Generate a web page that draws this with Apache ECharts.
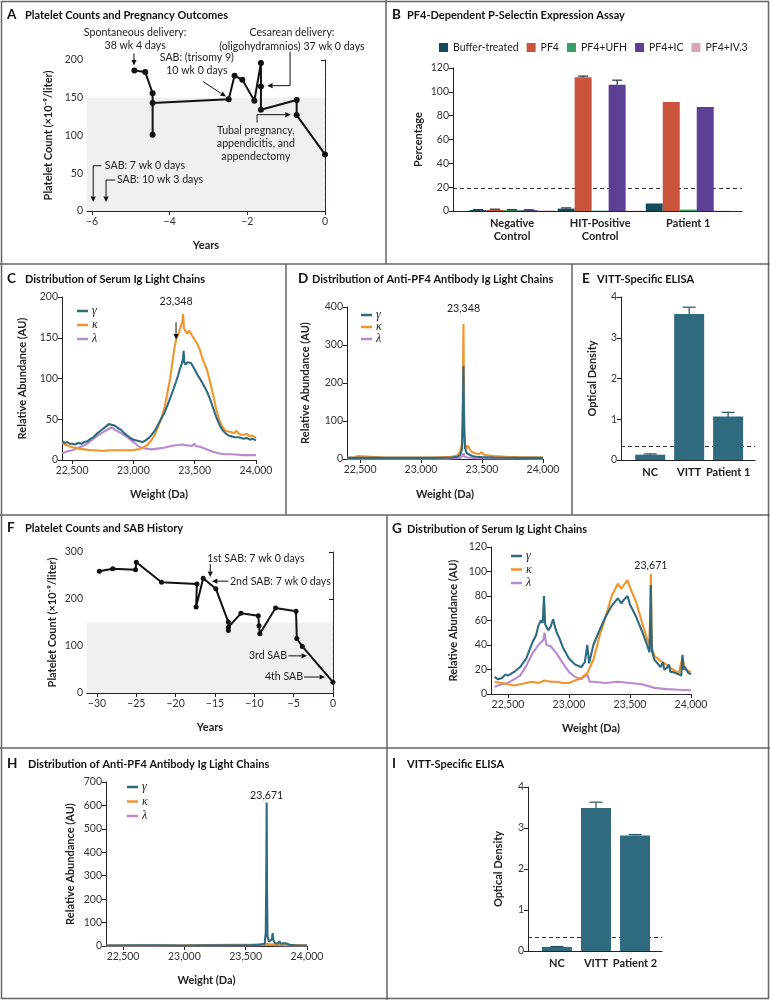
<!DOCTYPE html>
<html><head><meta charset="utf-8">
<script src="https://cdn.jsdelivr.net/npm/echarts@6/dist/echarts.min.js"></script>
<style>html,body{margin:0;padding:0;background:#fff}#c{width:770px;height:1000px}</style>
</head><body><div id="c"></div>
<script>
// ---------- DATA ----------
// Panel A
const A_years  = [-4.91, -4.63, -4.44, -4.44, -4.44, -2.48, -2.33, -2.13, -1.82, -1.65, -1.65, -1.65, -0.73, -0.73, 0];
const A_counts = [186, 184, 156, 101, 143, 148, 179, 174, 146, 196, 165, 134, 147, 127, 75];
const A_ticks = [-6, -4, -2, 0];
// Panel B
const B_groups = ['Negative\nControl', 'HIT-Positive\nControl', 'Patient 1'];
const B_names = ['Buffer-treated', 'PF4', 'PF4+UFH', 'PF4+IC', 'PF4+IV.3'];
const B_buffer = [0.8, 2.0, 6.3];
const B_pf4    = [1.0, 112.3, 91.5];
const B_ufh    = [0.8, 0.3, 1.2];
const B_ic     = [0.7, 106.0, 87.3];
const B_iv3    = [0.5, 0.3, 0.3];
const B_errBuffer = [1.1, 2.6, null];
const B_errPf4    = [1.5, 113.2, null];
const B_errUfh    = [1.1, null, null];
const B_errIc     = [1.0, 109.8, null];
const B_errIv3    = [null, null, null];
const B_cutoff = 19.5;
// Panel C
const C_gamma = [[22420,23],[22440,21],[22460,22],[22480,20],[22500,20],[22525,19],[22550,21],[22575,20],[22600,22],[22625,23],[22650,26],[22675,28],[22700,32],[22725,35],[22750,38],[22775,41],[22800,44],[22815,46],[22830,43],[22850,42],[22875,39],[22900,37],[22925,33],[22950,30],[22975,27],[23000,25],[23025,24],[23050,23],[23075,22],[23100,24],[23125,27],[23150,31],[23175,36],[23200,43],[23225,50],[23250,57],[23275,66],[23300,76],[23325,86],[23348,96],[23365,104],[23380,112],[23395,118],[23405,125],[23410,134],[23415,120],[23425,117],[23440,120],[23455,118],[23470,119],[23485,115],[23500,111],[23525,104],[23550,98],[23575,91],[23600,84],[23625,75],[23650,64],[23675,53],[23700,44],[23725,37],[23750,33],[23775,30],[23800,29],[23825,28],[23840,30],[23860,28],[23880,27],[23900,26],[23925,27],[23950,25],[23975,26],[24000,24]];
const C_kappa = [[22420,21],[22440,19],[22460,18],[22480,17],[22500,16],[22550,14],[22600,13],[22650,12],[22700,12],[22750,11],[22800,12],[22850,12],[22900,12],[22950,12],[23000,12],[23025,13],[23050,13],[23075,15],[23100,17],[23125,20],[23150,25],[23175,31],[23200,40],[23225,50],[23250,62],[23275,80],[23300,100],[23320,122],[23335,138],[23348,147],[23360,152],[23375,158],[23390,166],[23400,170],[23406,179],[23412,162],[23425,158],[23440,155],[23455,159],[23470,155],[23485,151],[23500,150],[23520,143],[23540,136],[23560,126],[23580,118],[23600,111],[23625,96],[23650,80],[23675,63],[23700,49],[23725,41],[23750,36],[23775,35],[23800,34],[23825,33],[23840,36],[23860,32],[23880,31],[23900,31],[23925,32],[23950,29],[23975,30],[24000,27]];
const C_lambda = [[22420,8],[22450,10],[22500,12],[22550,15],[22600,18],[22650,23],[22700,29],[22750,34],[22800,38],[22825,40],[22850,37],[22875,35],[22900,33],[22950,28],[23000,22],[23025,19],[23050,16],[23100,14],[23150,13],[23200,14],[23250,15],[23300,17],[23350,18],[23400,19],[23425,18],[23450,18],[23475,17],[23500,20],[23510,17],[23550,16],[23600,13],[23650,10],[23700,8],[23750,7],[23800,7],[23900,6],[24000,6]];
// Panel D
const D_gamma = [[22395,3],[22500,3],[22700,3],[22900,3],[23100,3],[23250,4],[23300,6],[23320,10],[23335,25],[23342,90],[23348,245],[23353,80],[23360,30],[23375,15],[23390,12],[23420,8],[23450,6],[23500,5],[23600,4],[23800,3],[24000,3]];
const D_kappa = [[22395,4],[22460,4],[22480,8],[22495,4],[22700,4],[22900,4],[23100,4],[23250,6],[23300,10],[23320,18],[23335,40],[23342,150],[23348,355],[23353,120],[23360,40],[23375,28],[23385,35],[23395,30],[23410,20],[23440,15],[23470,13],[23500,18],[23510,12],[23550,10],[23600,8],[23700,6],[23800,5],[24000,4]];
const D_lambda = [[22395,1],[23200,1],[23320,3],[23340,8],[23348,15],[23356,6],[23380,4],[23450,2],[24000,1]];
// Panel E
const E_cats = ['NC', 'VITT', 'Patient 1'];
const E_vals = [0.13, 3.58, 1.07];
const E_err  = [0.15, 3.75, 1.17];
const E_cutoff = 0.335;
// Panel F
const F_years  = [-29.7, -28.0, -25.1, -25.0, -21.8, -17.3, -17.4, -16.5, -14.9, -13.3, -13.3, -13.3, -11.7, -9.5, -9.4, -9.3, -7.3, -4.7, -4.6, -3.9, 0];
const F_counts = [259, 264.5, 262, 278, 235.5, 232, 183, 244, 222, 151, 133, 140, 169.5, 164.5, 143, 126, 181, 174, 116, 99, 23];
const F_ticks = [-30, -25, -20, -15, -10, -5, 0];
// Panel G
const G_gamma = [[22390,14],[22420,12],[22450,13],[22480,16],[22500,15],[22550,18],[22600,22],[22650,29],[22700,42],[22730,48],[22750,56],[22770,60],[22785,58],[22795,80],[22805,57],[22830,52],[22850,55],[22870,61],[22885,55],[22900,50],[22920,46],[22950,38],[23000,29],[23050,24],[23100,22],[23130,26],[23150,40],[23165,25],[23200,40],[23250,52],[23300,63],[23350,72],[23400,78],[23430,74],[23450,77],[23480,80],[23500,73],[23550,63],[23600,51],[23640,40],[23660,34],[23668,70],[23671,89],[23674,60],[23680,35],[23700,28],[23750,22],[23770,26],[23780,20],[23800,21],[23820,24],[23830,18],[23850,18],[23900,16],[23920,15],[23930,32],[23940,20],[23950,22],[23980,17],[24000,16]];
const G_kappa = [[22390,10],[22450,9],[22500,8],[22550,7],[22600,8],[22650,9],[22700,10],[22750,9],[22800,11],[22850,10],[22900,10],[22950,9],[23000,9],[23050,11],[23100,13],[23150,17],[23200,28],[23250,47],[23300,63],[23350,80],[23400,90],[23430,86],[23450,89],[23480,93],[23500,87],[23550,75],[23600,58],[23640,45],[23660,40],[23671,98],[23680,38],[23700,31],[23750,27],[23800,24],[23850,20],[23900,17],[23930,30],[23950,20],[24000,18]];
const G_lambda = [[22390,6],[22450,8],[22500,9],[22550,12],[22600,15],[22650,23],[22700,33],[22750,40],[22790,44],[22800,50],[22815,40],[22850,39],[22900,33],[22950,25],[23000,18],[23050,14],[23100,12],[23150,16],[23170,10],[23200,10],[23300,9],[23400,10],[23500,9],[23600,8],[23700,5],[23800,4],[23900,3.5],[24000,3]];
// Panel H
const H_gamma = [[22360,2],[22600,3],[22800,3],[23000,2],[23200,3],[23400,3],[23550,4],[23620,6],[23655,10],[23664,60],[23668,300],[23671,612],[23674,250],[23678,40],[23690,18],[23705,15],[23715,30],[23720,55],[23726,25],[23740,12],[23760,10],[23775,20],[23785,10],[23800,8],[23825,12],[23835,6],[23860,5],[23900,3],[24000,2]];
const H_kappa = [[22360,2],[23000,3],[23400,5],[23600,6],[23660,9],[23671,12],[23690,8],[23800,5],[24000,2]];
const H_lambda = [[22360,1],[23500,2],[23660,5],[23671,8],[23690,4],[24000,1]];
// Panel I
const I_cats = ['NC', 'VITT', 'Patient 2'];
const I_vals = [0.10, 3.49, 2.82];
const I_err  = [0.11, 3.63, 2.84];
const I_cutoff = 0.33;
const DA_ticks = [22500, 23000, 23500, 24000];

// ---------- STYLE ----------
const FONT = 'Lato';
const AX = '#222';
const C_G = '#2f6b80', C_K = '#f0952e', C_L = '#b98acf';
const B_COLORS = ['#134b5c', '#c9533c', '#3a9e68', '#5d3f95', '#dba3b4'];
const BAR_TEAL = '#2f6a7e';

function fmtDa(v){ return String(v).replace(/\B(?=(\d{3})+(?!\d))/g, ','); }
function fmtNeg(v){ return v < 0 ? '\u2212' + (-v) : String(v); }

function xVal(g, min, max, ticks, fmt, name, gap, tickShow, labelStyle){
  return {type:'value', gridIndex:g, min, max, splitLine:{show:false},
    axisLine:{show:true, onZero:false, lineStyle:{color:AX, width:1}},
    axisTick:{show:tickShow, customValues:ticks, length:4, lineStyle:{color:AX}},
    axisLabel:Object.assign({customValues:ticks, formatter:fmt, color:'#333', fontSize:10.5, fontFamily:FONT, margin:5}, labelStyle||{}),
    name, nameLocation:'middle', nameGap:gap,
    nameTextStyle:{fontWeight:'bold', fontSize:11, color:'#222', fontFamily:FONT}};
}
function yVal(g, max, interval, name, gap){
  return {type:'value', gridIndex:g, min:0, max, interval, splitLine:{show:false},
    axisLine:{show:true, lineStyle:{color:AX, width:1}},
    axisTick:{show:true, length:4, lineStyle:{color:AX}},
    axisLabel:{color:'#333', fontSize:10.5, fontFamily:FONT, margin:4},
    name, nameLocation:'middle', nameGap:gap, nameRotate:90,
    nameTextStyle:{fontWeight:'bold', fontSize:11, color:'#222', fontFamily:FONT}};
}
function zip(xs, ys){ return xs.map((x,i)=>[x, ys[i]]); }
function curve(g, name, data, color){
  return {type:'line', name, xAxisIndex:g, yAxisIndex:g, data, showSymbol:false, symbol:'none',
    lineStyle:{color, width:2.1}, itemStyle:{color}, color, animation:false, z:3};
}
function errSeries(g, data, capHalf, barW, color){
  return {type:'custom', xAxisIndex:g, yAxisIndex:g, data, z:4, encode:{x:0, y:1},
    renderItem(params, api){
      const off = (api.value(3) - 2) * barW;
      const p1 = api.coord([api.value(0), api.value(1)]);
      const p2 = api.coord([api.value(0), api.value(2)]);
      const x = p1[0] + off;
      return {type:'group', children:[
        {type:'line', shape:{x1:x, y1:p1[1], x2:x, y2:p2[1]}, style:{stroke:color, lineWidth:1.2}},
        {type:'line', shape:{x1:x-capHalf, y1:p2[1], x2:x+capHalf, y2:p2[1]}, style:{stroke:color, lineWidth:1.2}}
      ]};
    }};
}
function cutLine(v){
  return {silent:true, symbol:'none', z:1, label:{show:false},
    lineStyle:{type:[4,3], color:'#333', width:1}, data:[{yAxis:v}]};
}

const grids = [
  {left:87, top:60, width:238, height:151},   // A
  {left:453, top:68, width:289, height:143},  // B
  {left:62, top:297, width:194, height:163},  // C
  {left:347, top:307, width:196, height:152}, // D
  {left:621, top:297, width:134, height:163}, // E
  {left:87, top:552, width:246, height:141},  // F
  {left:491, top:547, width:200, height:147}, // G
  {left:106, top:782, width:201, height:164}, // H
  {left:528, top:787, width:134, height:164}  // I
];
const A_xmin = -6.13, F_xmin = -31.27;
const catLabel = {fontWeight:'bold', fontSize:11, color:'#222', lineHeight:13, margin:6};

const xAxes = [
  xVal(0, A_xmin, 0, A_ticks, fmtNeg, 'Years', 29, true),
  xVal(1, 0.33, 3.61, [1,2,3], v=>B_groups[v-1], '', 0, false, catLabel),
  xVal(2, 22418, 24000, DA_ticks, fmtDa, 'Weight (Da)', 29, true),
  xVal(3, 22393, 24000, DA_ticks, fmtDa, 'Weight (Da)', 30, true),
  xVal(4, 0.25, 3.69, [1,2,3], v=>E_cats[v-1], '', 0, false, catLabel),
  xVal(5, F_xmin, 0, F_ticks, fmtNeg, 'Years', 29, true),
  xVal(6, 22361, 24000, DA_ticks, fmtDa, 'Weight (Da)', 29, true),
  xVal(7, 22361, 24000, DA_ticks, fmtDa, 'Weight (Da)', 29, true),
  xVal(8, 0.26, 3.69, [1,2,3], v=>I_cats[v-1], '', 0, false, catLabel)
];
const yAxes = [
  yVal(0, 200, 50, 'Platelet Count (×10\u207B\u2079/liter)', 33),
  yVal(1, 120, 20, 'Percentage', 29),
  yVal(2, 200, 50, 'Relative Abundance (AU)', 34),
  yVal(3, 400, 100, 'Relative Abundance (AU)', 36),
  yVal(4, 4, 1, 'Optical Density', 23),
  yVal(5, 300, 100, 'Platelet Count (×10\u207B\u2079/liter)', 29),
  yVal(6, 120, 20, 'Relative Abundance (AU)', 32),
  yVal(7, 700, 100, 'Relative Abundance (AU)', 30),
  yVal(8, 4, 1, 'Optical Density', 24)
];

const series = [];
// A
series.push({type:'line', name:'A', xAxisIndex:0, yAxisIndex:0, data:zip(A_years, A_counts),
  symbol:'circle', symbolSize:6, lineStyle:{color:'#111', width:2}, itemStyle:{color:'#111'}, z:3,
  markArea:{silent:true, z:1, itemStyle:{color:'#eff1ef'}, data:[[{coord:[A_xmin,0]},{coord:[0,150]}]]},
  markLine:{silent:true, symbol:'none', z:2, label:{show:false}, lineStyle:{type:[3,3], color:'#333', width:1}, data:[{xAxis:0}]}
});
// B
const B_vals = [B_buffer, B_pf4, B_ufh, B_ic, B_iv3];
const B_errs = [B_errBuffer, B_errPf4, B_errUfh, B_errIc, B_errIv3];
B_names.forEach((n, s) => {
  series.push({type:'bar', name:n, xAxisIndex:1, yAxisIndex:1, barWidth:17, barGap:'0%', z:2,
    itemStyle:{color:B_COLORS[s]}, color:B_COLORS[s], data:B_vals[s].map((v,j)=>[j+1, v]),
    markLine: s === 0 ? cutLine(B_cutoff) : undefined});
});
const B_errData = [];
B_errs.forEach((arr, s) => arr.forEach((t, j) => { if (t !== null) B_errData.push([j+1, B_vals[s][j], t, s]); }));
series.push(errSeries(1, B_errData, 5, 17, '#1d2f36'));
// C
series.push(curve(2, 'λ', C_lambda, C_L), curve(2, 'κ', C_kappa, C_K), curve(2, 'γ', C_gamma, C_G));
// D
series.push(curve(3, 'λ', D_lambda, C_L), curve(3, 'κ', D_kappa, C_K), curve(3, 'γ', D_gamma, C_G));
// E
series.push({type:'bar', name:'E', xAxisIndex:4, yAxisIndex:4, barWidth:30, z:2, itemStyle:{color:BAR_TEAL},
  data:E_vals.map((v,i)=>[i+1, v]), markLine:cutLine(E_cutoff)});
series.push(errSeries(4, E_err.map((t,i)=>[i+1, E_vals[i], t, 2]), 6.5, 0, '#24505f'));
// F
series.push({type:'line', name:'F', xAxisIndex:5, yAxisIndex:5, data:zip(F_years, F_counts),
  symbol:'circle', symbolSize:5, lineStyle:{color:'#111', width:2}, itemStyle:{color:'#111'}, z:3,
  markArea:{silent:true, z:1, itemStyle:{color:'#eff1ef'}, data:[[{coord:[F_xmin,0]},{coord:[0,150]}]]},
  markLine:{silent:true, symbol:'none', z:2, label:{show:false}, lineStyle:{type:[3,3], color:'#333', width:1}, data:[{xAxis:0}]}
});
// G
series.push(curve(6, 'λ', G_lambda, C_L), curve(6, 'κ', G_kappa, C_K), curve(6, 'γ', G_gamma, C_G));
// H
series.push(curve(7, 'λ', H_lambda, C_L), curve(7, 'κ', H_kappa, C_K), curve(7, 'γ', H_gamma, C_G));
// I
series.push({type:'bar', name:'I', xAxisIndex:8, yAxisIndex:8, barWidth:30, z:2, itemStyle:{color:BAR_TEAL},
  data:I_vals.map((v,i)=>[i+1, v]), markLine:cutLine(I_cutoff)});
series.push(errSeries(8, I_err.map((t,i)=>[i+1, I_vals[i], t, 2]), 6.5, 0, '#24505f'));

function greekLegend(left, top, lh, gap){
  return {data:['γ','κ','λ'], orient:'vertical', left, top, icon:'rect', itemWidth:11, itemHeight:2.5,
    itemGap:gap, selectedMode:false,
    textStyle:{fontFamily:'Liberation Serif', fontStyle:'italic', fontSize:12, color:'#222', lineHeight:lh, padding:[0,0,0,-1]}};
}
const legends = [
  {data:B_names, left:434, top:37, icon:'rect', itemWidth:9, itemHeight:9, itemGap:8, selectedMode:false,
   textStyle:{fontFamily:FONT, fontSize:10.5, color:'#222'}},
  greekLegend(72, 300, 12, 2),
  greekLegend(356, 304, 10, 0),
  greekLegend(506, 545, 12, 1.5),
  greekLegend(122, 776, 12, 2.5)
];

const option = {
  animation:false,
  textStyle:{fontFamily:FONT},
  grid:grids, xAxis:xAxes, yAxis:yAxes, series, legend:legends
};
const chart = echarts.init(document.getElementById('c'));
chart.setOption(option);

// ---------- ANNOTATIONS (anchored in data coordinates) ----------
const ANNOT_TEXT = [
  [0,-4.89,236.5,'Spontaneous delivery:','center'],
  [0,-4.89,219,'38 wk 4 days','center'],
  [0,-3.30,203,'SAB: (trisomy 9)','center'],
  [0,-3.30,186,'10 wk 0 days','center'],
  [0,-0.85,236.5,'Cesarean delivery:','center'],
  [0,-0.85,218,'(oligohydramnios) 37 wk 0 days','center'],
  [0,-1.78,106,'Tubal pregnancy,','center'],
  [0,-1.78,89,'appendicitis, and','center'],
  [0,-1.78,72,'appendectomy','center'],
  [0,-5.67,60,'SAB: 7 wk 0 days','left'],
  [0,-5.36,41,'SAB: 10 wk 3 days','left'],
  [2,23348,194,'23,348','center'],
  [3,23348,397,'23,348','center'],
  [5,-16.0,287,'1st SAB: 7 wk 0 days','left'],
  [5,-13.1,238,'2nd SAB: 7 wk 0 days','left'],
  [5,-5.85,79,'3rd SAB','right'],
  [5,-3.8,34,'4th SAB','right'],
  [6,23671,104.5,'23,671','center'],
  [7,23671,640,'23,671','center']
];
const ANNOT_LINES = [
  [0,-4.92,208.6,-4.92,192.7,1],
  [0,-3.14,171.4,-2.55,151.5,1],
  [0,-0.90,211,-0.90,166,0],
  [0,-0.90,166,-1.49,166,1],
  [0,-1.75,117,-1.75,127.6,0],
  [0,-1.75,127.6,-0.88,127.6,1],
  [0,-5.76,60,-5.97,60,0],
  [0,-5.97,60,-5.97,12,1],
  [0,-5.40,41,-5.64,41,0],
  [0,-5.64,41,-5.64,12,1],
  [2,23348,169,23348,148,1],
  [5,-15.6,274.5,-15.6,247,1],
  [5,-13.3,238,-15.4,238,1],
  [5,-5.7,79,-3.3,79,1],
  [5,-3.7,34,-1.0,34,1]
];
const TITLES = [
  ['A','Platelet Counts and Pregnancy Outcomes',7,25,15],
  ['B','PF4-Dependent P-Selectin Expression Assay',392,407,15],
  ['C','Distribution of Serum Ig Light Chains',7,25,279],
  ['D','Distribution of Anti-PF4 Antibody Ig Light Chains',298,312,279],
  ['E','VITT-Specific ELISA',582,597,279],
  ['F','Platelet Counts and SAB History',7,25,528],
  ['G','Distribution of Serum Ig Light Chains',392,407,529],
  ['H','Distribution of Anti-PF4 Antibody Ig Light Chains',7,28,764],
  ['I','VITT-Specific ELISA',392,407,764]
];
const FRAME = '#666';
const FRAME_LINES = [
  [0,264,770,264],[0,515,770,515],[0,748,770,748],
  [386,0,386,264],[286,264,286,515],[572,264,572,515],[387,515,387,748],[387,748,387,1000]
];

const px = (g, x, y) => chart.convertToPixel({gridIndex:g}, [x, y]);
const Z = 100;
const gfx = [];
gfx.push({type:'rect', z:Z, shape:{x:1.5, y:1.5, width:767, height:997}, style:{fill:null, stroke:FRAME, lineWidth:1.5}, silent:true});
FRAME_LINES.forEach(l => gfx.push({type:'line', z:Z, shape:{x1:l[0], y1:l[1], x2:l[2], y2:l[3]}, style:{stroke:FRAME, lineWidth:1.5}, silent:true}));
TITLES.forEach(t => {
  gfx.push({type:'text', z:Z, x:t[2], y:t[4], style:{text:t[0], fontFamily:FONT, fontWeight:'bold', fontSize:13.5, fill:'#111', verticalAlign:'middle', align:'left'}});
  gfx.push({type:'text', z:Z, x:t[3], y:t[4], style:{text:t[1], fontFamily:FONT, fontWeight:'bold', fontSize:11, fill:'#111', verticalAlign:'middle', align:'left'}});
});
ANNOT_TEXT.forEach(a => {
  const p = px(a[0], a[1], a[2]);
  gfx.push({type:'text', z:Z, x:p[0], y:p[1], style:{text:a[3], fontFamily:FONT, fontSize:10.6, fill:'#222', align:a[4], verticalAlign:'middle'}});
});
ANNOT_LINES.forEach(a => {
  const p1 = px(a[0], a[1], a[2]), p2 = px(a[0], a[3], a[4]);
  if (!a[5]) {
    gfx.push({type:'line', z:Z, shape:{x1:p1[0], y1:p1[1], x2:p2[0], y2:p2[1]}, style:{stroke:'#111', lineWidth:1}});
    return;
  }
  const dx = p2[0]-p1[0], dy = p2[1]-p1[1], L = Math.hypot(dx, dy), ux = dx/L, uy = dy/L;
  const hl = 5.5, hw = 2.6, bx = p2[0]-ux*hl, by = p2[1]-uy*hl;
  gfx.push({type:'line', z:Z, shape:{x1:p1[0], y1:p1[1], x2:bx, y2:by}, style:{stroke:'#111', lineWidth:1}});
  gfx.push({type:'polygon', z:Z, shape:{points:[[p2[0],p2[1]],[bx-uy*hw, by+ux*hw],[bx+uy*hw, by-ux*hw]]}, style:{fill:'#111'}});
});
chart.setOption({graphic:gfx});
</script>
</body></html>
